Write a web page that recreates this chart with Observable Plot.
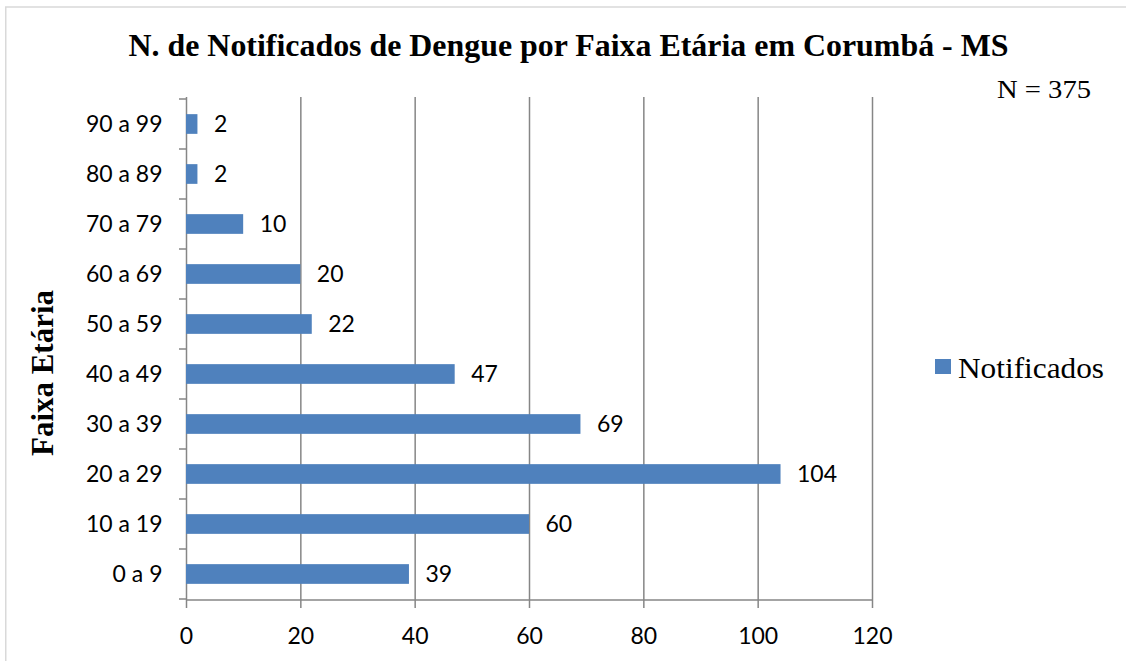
<!DOCTYPE html>
<html><head><meta charset="utf-8">
<script src="https://cdn.jsdelivr.net/npm/d3@7"></script>
<script src="https://cdn.jsdelivr.net/npm/@observablehq/plot@0.6"></script>
<style>
body{margin:0;background:#fff}
#wrap{position:relative;width:1126px;height:661px;overflow:hidden;background:#fff}
#wrap svg{position:absolute;left:0;top:0}
</style></head>
<body><div id="wrap"></div>
<script>
const faixas = ["0 a 9","10 a 19","20 a 29","30 a 39","40 a 49","50 a 59","60 a 69","70 a 79","80 a 89","90 a 99"];
const notificados = [39,60,104,69,47,22,20,10,2,2];
const xTicks = [0,20,40,60,80,100,120];
const titulo = "N. de Notificados de Dengue por Faixa Etária em Corumbá - MS";
const nTotal = "N = 375";
const serieNome = "Notificados";
const eixoY = "Faixa Etária";

const data = faixas.map((f,i)=>({faixa:f, v:notificados[i]}));
const azul = "#4F81BD", cinza = "#868686";
const W = 1126, H = 661;

const chart = Plot.plot({
  width: W, height: H,
  marginLeft: 186, marginRight: 254, marginTop: 97, marginBottom: 61,
  style: {fontFamily: "Lato, sans-serif", fontSize: "23px", color: "#000", background: "transparent", overflow: "visible"},
  x: {domain: [0,120], label: null},
  y: {domain: faixas.slice().reverse(), padding: 0, label: null},
  marks: [
    Plot.ruleX(xTicks, {stroke: cinza, strokeWidth: 1.5}),
    Plot.barX(data, {x: "v", y: "faixa", fill: azul, insetTop: 15.15, insetBottom: 15.15}),
    Plot.text(data, {x: "v", y: "faixa", text: d => String(d.v), textAnchor: "start", dx: 16, fill: "#000", fontSize: 23}),
    Plot.axisX({ticks: xTicks, tickSize: 8, tickPadding: 19, stroke: cinza, strokeWidth: 1.5, fill: "#000", fontSize: 23, label: null}),
    Plot.axisY({tickSize: 0, tickPadding: 24, fill: "#000", fontSize: 23, label: null})
  ]
});
const wrap = document.getElementById("wrap");
wrap.appendChild(chart);

// Excel-style axis line and category boundary ticks, positioned from Plot's scales
const X = chart.scale("x"), Y = chart.scale("y");
const x0 = X.apply(0), x1 = X.apply(xTicks[xTicks.length-1]);
const bounds = new Set();
Y.domain.forEach(d => { bounds.add(Y.apply(d)); bounds.add(Y.apply(d) + Y.bandwidth); });
const svg = d3.select(chart);
const g = svg.append("g").attr("stroke", cinza).attr("stroke-width", 1.5);
g.append("line").attr("x1", x0).attr("x2", x1).attr("y1", Y.range[1]).attr("y2", Y.range[1]);
for (const b of bounds) g.append("line").attr("x1", x0 - 7).attr("x2", x0).attr("y1", b).attr("y2", b);

// Annotations: border, title, N, y label, legend
const ov = d3.select(wrap).append("svg").attr("width", W).attr("height", H);
ov.append("rect").attr("x", 5.75).attr("y", 7).attr("width", 1400).attr("height", 900)
  .attr("fill", "none").attr("stroke", "#d9d9d9").attr("stroke-width", 1.5);
const serif = "'Liberation Serif', 'Times New Roman', serif";
ov.append("text").attr("x", 568.5).attr("y", 56).attr("text-anchor", "middle")
  .attr("font-family", serif).attr("font-weight", "bold").attr("font-size", 31.5)
  .attr("textLength", 880).attr("lengthAdjust", "spacingAndGlyphs").text(titulo);
ov.append("text").attr("x", 997).attr("y", 98).attr("font-family", serif).attr("font-size", 25)
  .attr("textLength", 94).attr("lengthAdjust", "spacingAndGlyphs").text(nTotal);
ov.append("text").attr("transform", "translate(53,373) rotate(-90)")
  .attr("text-anchor", "middle").attr("font-family", serif).attr("font-weight", "bold").attr("font-size", 30.5)
  .attr("textLength", 166).attr("lengthAdjust", "spacingAndGlyphs").text(eixoY);
ov.append("rect").attr("x", 935).attr("y", 359).attr("width", 16).attr("height", 15).attr("fill", azul);
ov.append("text").attr("x", 958).attr("y", 378).attr("font-family", serif).attr("font-size", 29)
  .attr("textLength", 146).attr("lengthAdjust", "spacingAndGlyphs").text(serieNome);
</script>
</body></html>
